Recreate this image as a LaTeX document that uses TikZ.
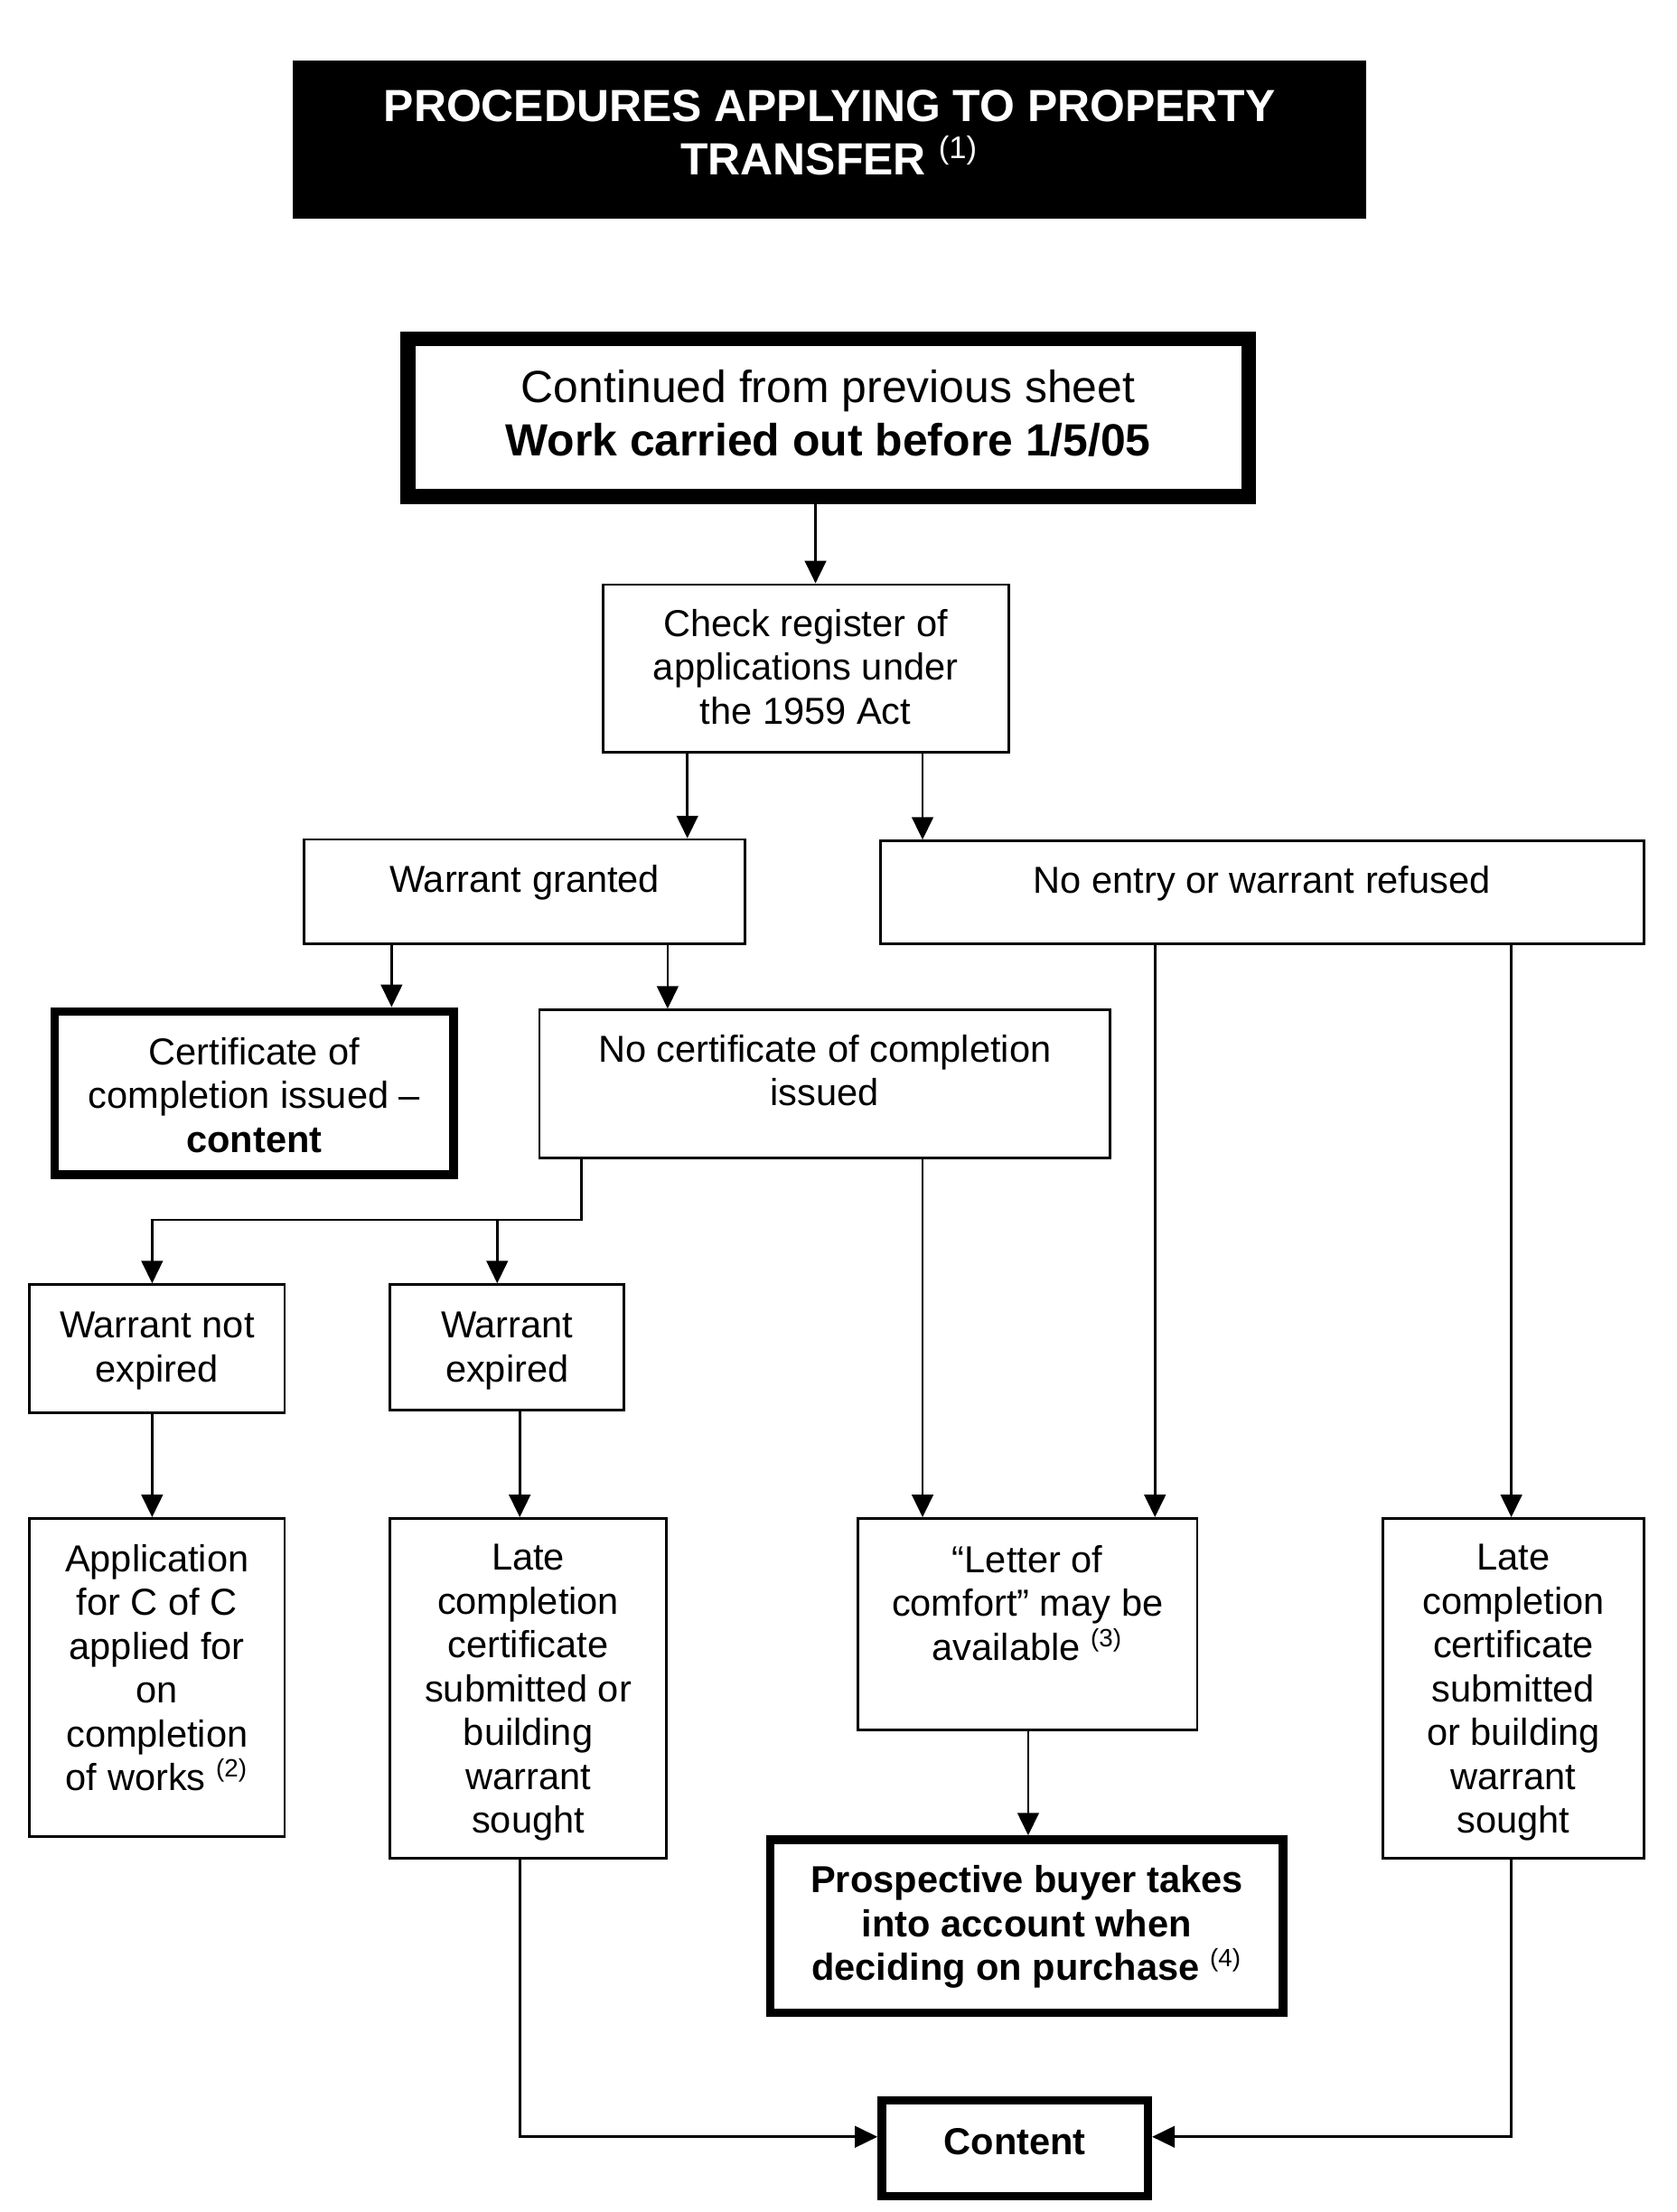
\documentclass[tikz,border=0pt]{standalone}
\usepackage{fontspec}
\setmainfont{Liberation Sans}
\usetikzlibrary{arrows.meta,fit}
\begin{document}
\begin{tikzpicture}[x=0.45pt,y=-0.45pt,
  thinbox/.style={draw,line width=0.8pt,inner sep=0pt,rectangle},
  thickbox/.style={draw,line width=2.7pt,inner sep=0pt,rectangle},
  txt/.style={align=center,inner sep=0pt,font=\fontsize{12}{14}\selectfont,execute at begin node=\strut,execute at end node=\strut},
  hd/.style={align=center,inner sep=0pt,font=\fontsize{14.4}{17}\selectfont,execute at begin node=\strut,execute at end node=\strut},
  arr/.style={line width=0.8pt,-{Triangle[length=7.2pt,width=6.8pt]}},
  ln/.style={line width=0.8pt}]
\useasboundingbox (0,0) rectangle (1190,1570.4);

% title
\node[fill=black,inner sep=0pt,fit={(208,43) (970,155)}] (title) {};
\node[hd,text=white] (titletxt) at (589,99.5) {\bfseries PROCEDURES APPLYING TO PROPERTY\\\bfseries TRANSFER \textsuperscript{\mdseries(1)}};

% boxes
\node[draw,line width=4.8pt,inner sep=0pt,fit={(289.5,240.5) (886.5,352.5)}] (top) {};
\node[hd] (toptxt) at (588,298.5) {Continued from previous sheet\\\bfseries Work carried out before 1/5/05};

\node[thinbox,fit={(428,415) (716,534)}] (chk) {};
\node[txt] (chktxt) at (572,478) {Check register of\\applications under\\the 1959 Act};

\node[thinbox,fit={(216,596) (529,670)}] (wg) {};
\node[txt] (wgtxt) at (372.5,627.5) {Warrant granted};

\node[thinbox,fit={(625,597) (1167,670)}] (ne) {};
\node[txt] (netxt) at (896,628) {No entry or warrant refused};

\node[thickbox,fit={(39,718) (322,834)}] (cci) {};
\node[txt] (ccitxt) at (180.5,782) {Certificate of\\completion issued --\\\bfseries content};

\node[thinbox,fit={(383,717) (788,822)}] (nc) {};
\node[txt] (nctxt) at (585.5,764.5) {No certificate of completion\\issued};

\node[thinbox,fit={(21,912) (202,1003)}] (wne) {};
\node[txt] (wnetxt) at (111.5,961) {Warrant not\\expired};

\node[thinbox,fit={(277,912) (443,1001)}] (we) {};
\node[txt] (wetxt) at (360,961) {Warrant\\expired};

\node[thinbox,fit={(21,1078) (202,1304)}] (app) {};
\node[txt] (apptxt) at (111.5,1188.5) {Application\\for C of C\\applied for\\on\\completion\\of works \textsuperscript{(2)}};

\node[thinbox,fit={(277,1078) (473,1319)}] (lcl) {};
\node[txt] (lcltxt) at (375,1203.5) {Late\\completion\\certificate\\submitted or\\building\\warrant\\sought};

\node[thinbox,fit={(609,1078) (850,1228)}] (loc) {};
\node[txt] (loctxt) at (729.5,1142.5) {“Letter of\\comfort” may be\\available \textsuperscript{(3)}};

\node[thinbox,fit={(982,1078) (1167,1319)}] (lcr) {};
\node[txt] (lcrtxt) at (1074.5,1203.5) {Late\\completion\\certificate\\submitted\\or building\\warrant\\sought};

\node[thickbox,fit={(547,1306) (911,1429)}] (pb) {};
\node[txt] (pbtxt) at (729,1370) {\bfseries Prospective buyer takes\\\bfseries into account when\\\bfseries deciding on purchase \textsuperscript{\mdseries(4)}};

\node[thickbox,fit={(626,1491) (815,1559)}] (cont) {};
\node[txt] (conttxt) at (720.5,1523.5) {\bfseries Content};

% x positions of connectors
\coordinate (x579) at (579,0);
\coordinate (x488) at (488,0);
\coordinate (x655) at (655,0);
\coordinate (x278) at (278,0);
\coordinate (x474) at (474,0);
\coordinate (x108) at (108,0);
\coordinate (x353) at (353,0);
\coordinate (x820) at (820,0);
\coordinate (x1073) at (1073,0);
\coordinate (x369) at (369,0);
\coordinate (x730) at (730,0);
\coordinate (j) at (413,866);
\coordinate (y1517) at (0,1517);

% connectors
\draw[arr] (top.south -| x579) -- (chk.north -| x579);
\draw[arr] (chk.south -| x488) -- (wg.north -| x488);
\draw[arr] (chk.south -| x655) -- (ne.north -| x655);
\draw[arr] (wg.south -| x278) -- (cci.north -| x278);
\draw[arr] (wg.south -| x474) -- (nc.north -| x474);
\draw[arr] (nc.south -| j) -- (j) -| (wne.north -| x108);
\draw[arr] (j -| x353) -- (we.north -| x353);
\draw[arr] (nc.south -| x655) -- (loc.north -| x655);
\draw[arr] (ne.south -| x820) -- (loc.north -| x820);
\draw[arr] (ne.south -| x1073) -- (lcr.north -| x1073);
\draw[arr] (wne.south -| x108) -- (app.north -| x108);
\draw[arr] (we.south -| x369) -- (lcl.north -| x369);
\draw[arr] (loc.south -| x730) -- (pb.north -| x730);
\draw[arr] (lcl.south -| x369) |- (cont.west |- y1517);
\draw[arr] (lcr.south -| x1073) |- (cont.east |- y1517);
\end{tikzpicture}
\end{document}
